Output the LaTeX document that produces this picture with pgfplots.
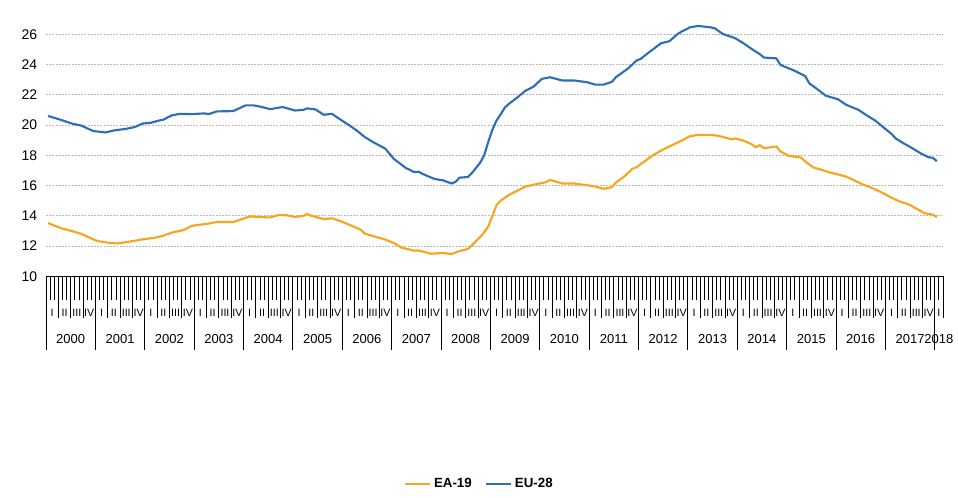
\documentclass[border=0pt]{standalone}
\usepackage{fontspec}
\setmainfont{Liberation Sans}
\usepackage{pgfplots}
\pgfplotsset{compat=1.18}
\definecolor{eaorange}{RGB}{248,164,28}
\definecolor{eublue}{RGB}{46,110,182}

% months counted from Jan 2000 = 0
\pgfplotstableread{
m v
0 13.52
3 13.19
6 12.97
8 12.81
11 12.44
12 12.33
15 12.20
17 12.17
20 12.30
23 12.44
26 12.55
28 12.68
30 12.88
33 13.06
35 13.34
39 13.48
41 13.59
45 13.59
47 13.76
49 13.96
51 13.92
54 13.89
56 14.05
58 14.03
60 13.92
62 13.98
63 14.11
64 14.00
67 13.78
69 13.83
71 13.65
73 13.43
76 13.08
77 12.81
79 12.66
82 12.42
84 12.20
86 11.89
89 11.69
90 11.71
93 11.49
96 11.54
98 11.47
100 11.67
102 11.80
103 12.04
105 12.59
106 12.90
107 13.30
108 14.00
109 14.70
110 15.00
112 15.38
114 15.65
116 15.93
119 16.11
121 16.22
122 16.37
125 16.13
128 16.13
131 16.02
133 15.93
135 15.78
137 15.89
138 16.20
140 16.59
142 17.10
143 17.21
145 17.60
147 18.00
149 18.31
151 18.58
154 18.97
156 19.26
158 19.35
161 19.35
163 19.28
166 19.06
167 19.11
169 18.97
171 18.73
172 18.53
173 18.67
174 18.47
177 18.58
178 18.25
180 17.96
183 17.85
184 17.59
186 17.19
188 17.04
190 16.86
192 16.73
194 16.59
196 16.33
198 16.07
200 15.87
203 15.49
205 15.19
207 14.94
209 14.77
211 14.48
213 14.17
215 14.08
216 13.91
}\eadata

\pgfplotstableread{
m v
0 20.60
3 20.35
6 20.08
8 19.97
11 19.60
14 19.51
16 19.64
19 19.75
21 19.86
23 20.10
25 20.15
27 20.30
28 20.35
30 20.63
32 20.74
35 20.72
38 20.77
39 20.72
41 20.90
45 20.92
48 21.30
50 21.30
52 21.19
54 21.05
57 21.19
60 20.96
62 21.00
63 21.10
65 21.03
67 20.68
69 20.74
71 20.37
73 20.02
75 19.64
77 19.20
79 18.87
82 18.43
84 17.77
87 17.15
89 16.89
90 16.91
92 16.65
94 16.43
96 16.34
98 16.14
99 16.23
100 16.52
102 16.56
103 16.82
105 17.50
106 18.00
107 18.90
108 19.70
109 20.30
110 20.70
111 21.15
112 21.40
114 21.81
116 22.26
118 22.54
120 23.05
122 23.16
125 22.94
128 22.94
131 22.83
133 22.67
135 22.67
137 22.85
138 23.16
141 23.75
143 24.26
144 24.37
146 24.80
147 25.00
149 25.41
151 25.54
153 26.02
154 26.18
156 26.46
158 26.55
161 26.46
162 26.40
164 26.02
167 25.74
169 25.41
171 25.03
173 24.68
174 24.46
177 24.41
178 23.97
181 23.64
184 23.24
185 22.76
187 22.36
189 21.94
192 21.70
194 21.33
197 21.00
199 20.63
201 20.30
203 19.85
205 19.41
206 19.11
208 18.78
210 18.47
212 18.14
214 17.87
215 17.83
216 17.61
}\eudata

\begin{document}
\begin{tikzpicture}
\begin{axis}[
  scale only axis, width=672.75pt, height=198.5pt,
  xmin=-0.5, xmax=217.5, ymin=10, ymax=27.5,
  clip=false,
  axis x line*=bottom, axis y line*=left,
  y axis line style={draw=none},
  x axis line style={black, line width=0.75pt},
  ytick={10,12,...,26},
  ytick style={draw=none},
  ymajorgrids,
  major grid style={gray!55, line width=0.55pt, dash pattern=on 1.5pt off 0.9pt},
  yticklabel style={font=\fontsize{10.5}{12}\selectfont, xshift=28.5pt},
  /pgf/number format/assume math mode=true,
  tick align=outside,
  xtick={-0.5,2.5,...,215.5,217.5},
  minor xtick={-0.5,0.5,...,217.5},
  xtick style={black, line width=0.6pt},
  minor x tick style={black, line width=0.6pt},
  major tick length=31.5pt,
  minor tick length=18pt,
  x tick label as interval,
  xticklabel={\pgfmathparse{int(mod(\ticknum,4))}\ifcase\pgfmathresult I\or II\or III\or IV\fi},
  xticklabel style={font=\fontsize{8}{8}\selectfont, anchor=center, yshift=4pt, inner sep=0pt},
  extra x ticks={-0.5,11.5,...,215.5},
  extra x tick labels={},
  extra x tick style={major tick length=55.5pt, xtick style={black, line width=0.6pt}},
  legend style={at={(0.5,0)}, anchor=center, yshift=-156pt, xshift=-11pt,
    draw=none, fill=none, legend columns=2,
    font=\bfseries\fontsize{10}{12}\selectfont,
    /tikz/every even column/.append style={column sep=8pt}},
  legend image code/.code={\draw[#1] (0pt,0pt) -- (18.75pt,0pt);},
]
\addplot[eaorange, line width=1.6pt] table[x=m, y=v] {\eadata};
\addlegendentry{EA-19}
\addplot[eublue, line width=1.6pt] table[x=m, y=v] {\eudata};
\addlegendentry{EU-28}
\pgfplotsinvokeforeach{2000,...,2017}{
  \node[font=\fontsize{9.75}{11}\selectfont, anchor=center]
    at (axis cs:{(#1-2000)*12+5.5},10) [yshift=-47.25pt] {#1};
}
\node[font=\fontsize{9.75}{11}\selectfont, anchor=center]
  at (axis cs:216.5,10) [yshift=-47.25pt] {2018};
\end{axis}
\pgfresetboundingbox
\path[use as bounding box] ([xshift=-34.5pt,yshift=-166.3pt]current axis.south west) rectangle ++(718.5pt,373.5pt);
\end{tikzpicture}
\end{document}
